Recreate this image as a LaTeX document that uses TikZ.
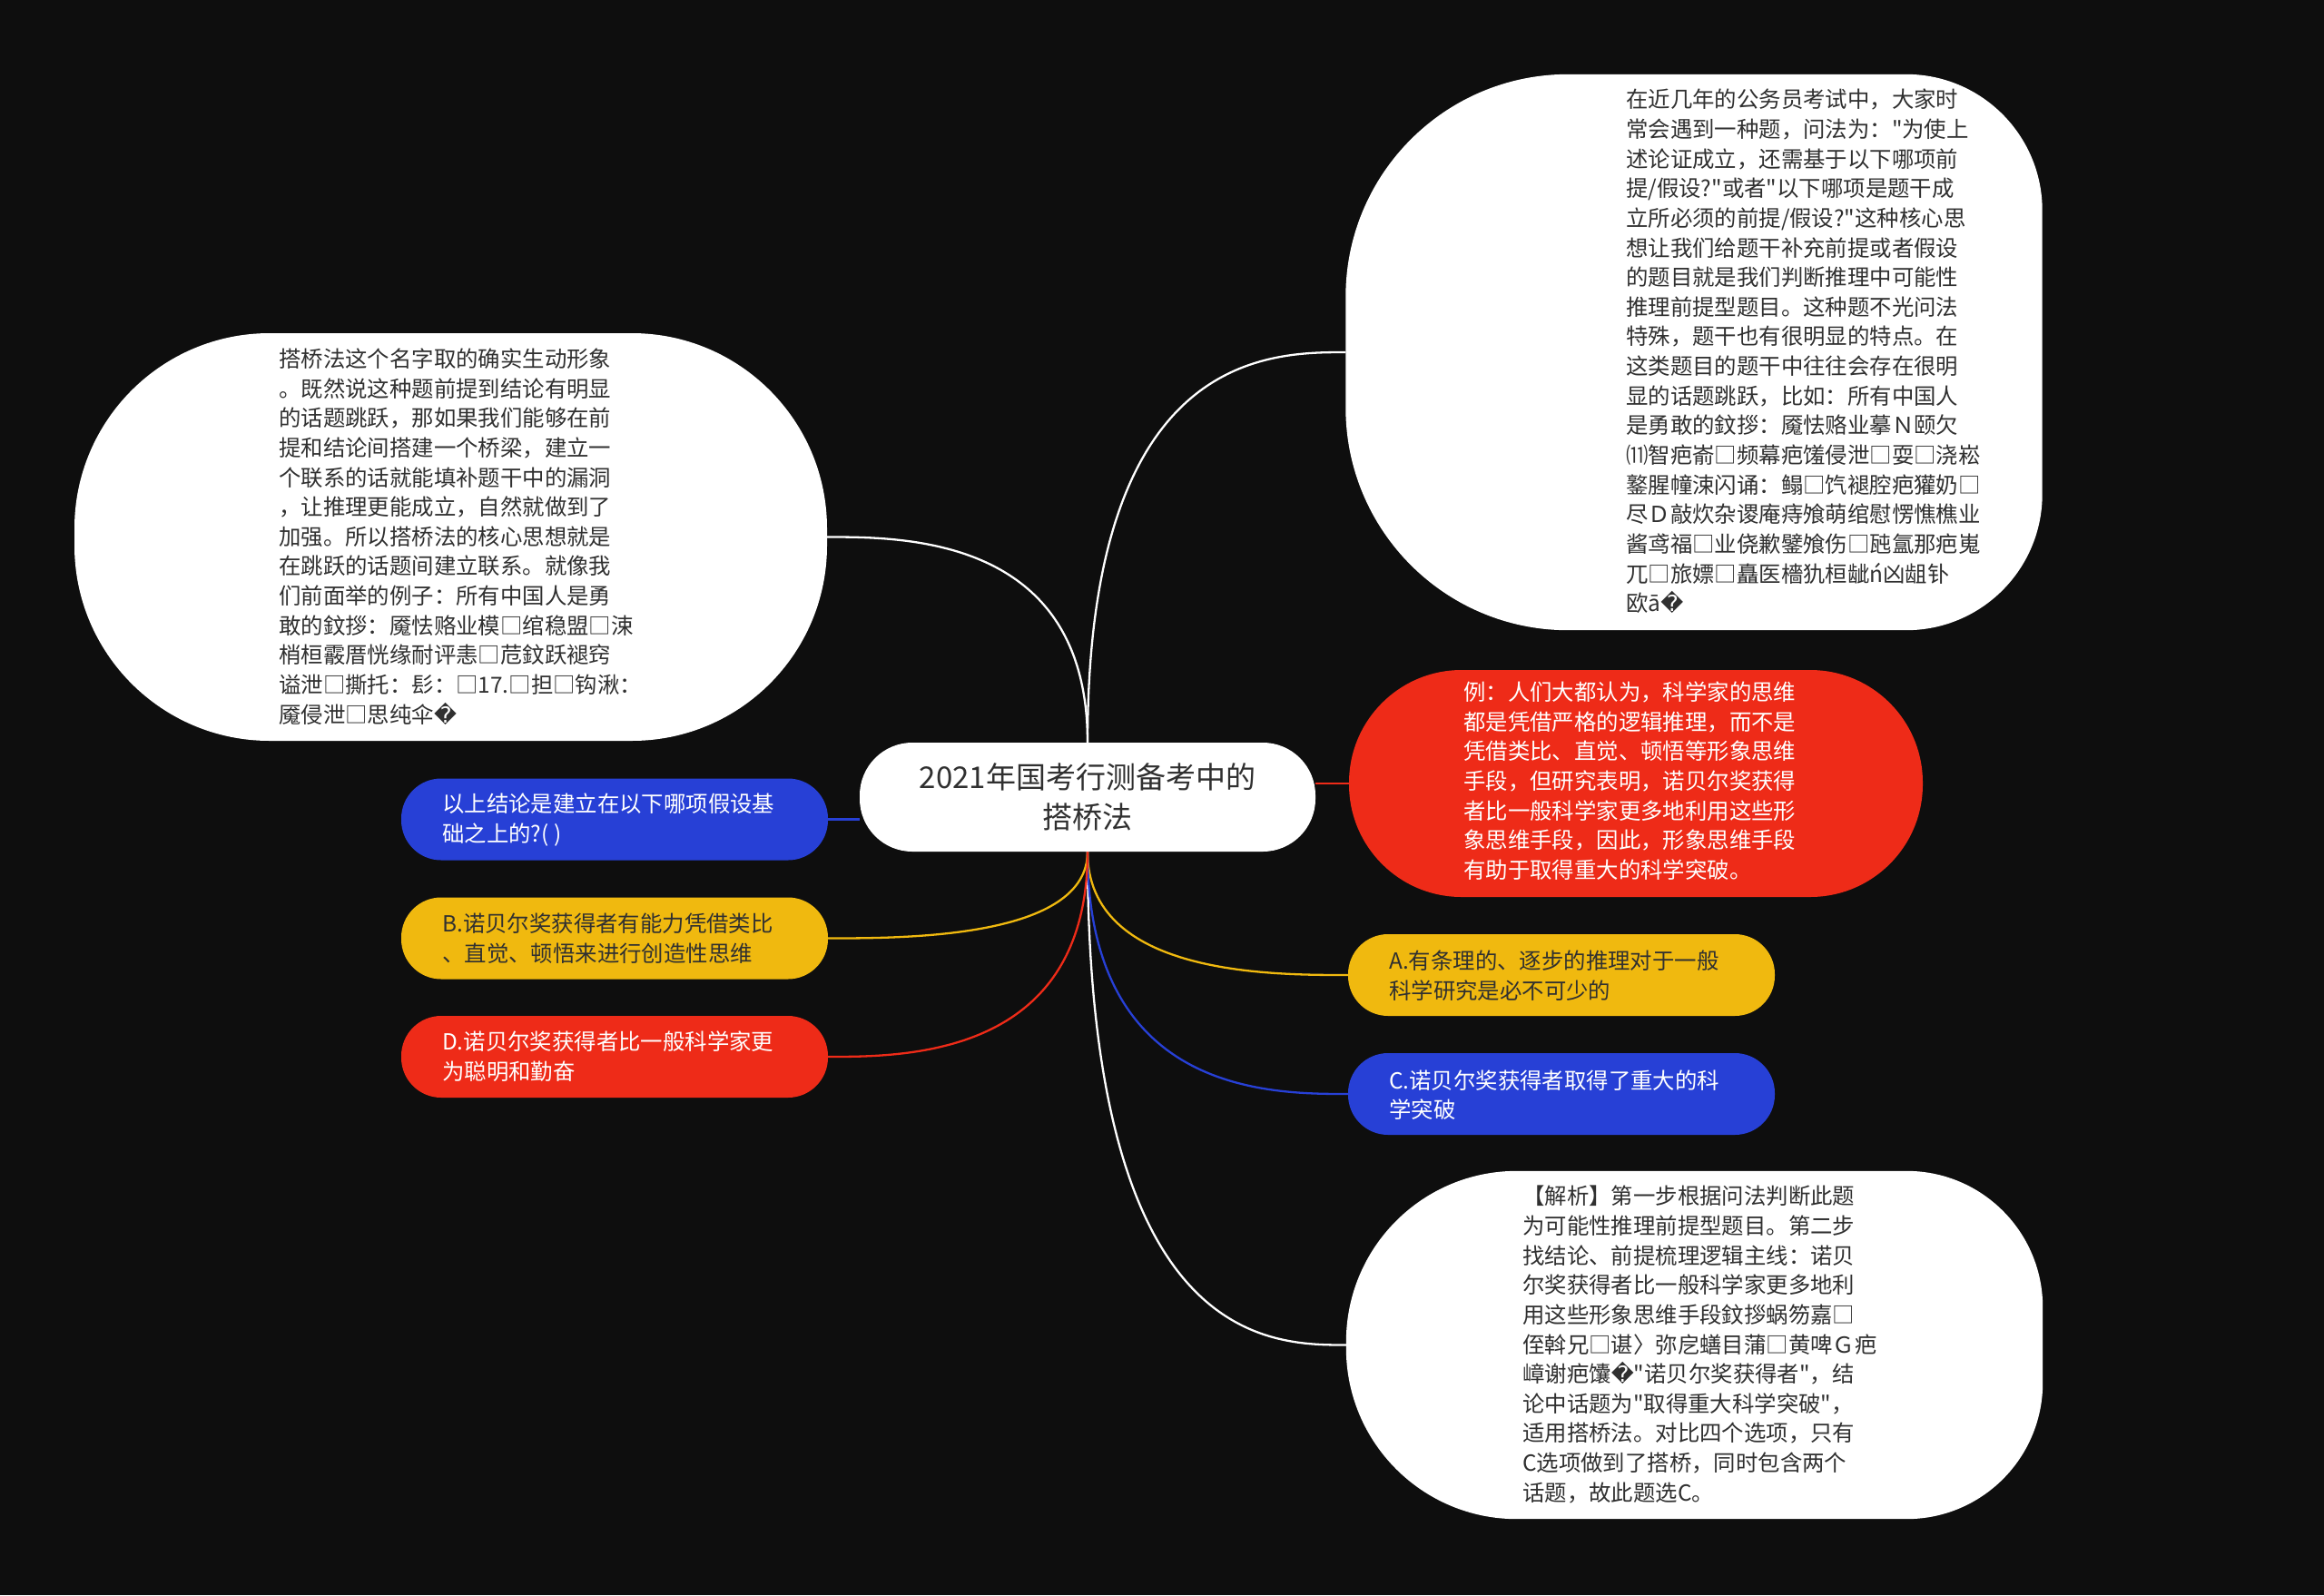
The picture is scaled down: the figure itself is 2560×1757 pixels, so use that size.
\documentclass[tikz,border=0pt]{standalone}
\usepackage{fontspec}
\setmainfont{Noto Sans CJK SC}[Ligatures=TeXOff]
\newfontfamily\dvsfont{DejaVu Sans}
\newcommand\repch{{\dvsfont\symbol{"FFFD}}}
\usetikzlibrary{calc}
\pgfdeclarelayer{bglayer}
\pgfdeclarelayer{edgelayer}
\pgfsetlayers{bglayer,edgelayer,main}
\definecolor{bgc}{HTML}{0E0E0E}
\definecolor{myblue}{HTML}{2740D6}
\definecolor{myyellow}{HTML}{F0B90F}
\definecolor{myred}{HTML}{EE2B18}
\definecolor{txt}{HTML}{303030}
\tikzset{
  bubble/.style={draw=none, inner sep=0pt, rectangle},
  whitebub/.style={bubble, fill=white},
  pill/.style={bubble, minimum width=470pt, minimum height=90pt, rounded corners=44pt},
  body/.style={inner sep=0pt, align=left, anchor=west, font=\fontsize{24.4}{32.65}\selectfont},
  conn/.style={line width=2.3pt},
}
\begin{document}
\begin{tikzpicture}[x=1pt,y=-1pt]
\useasboundingbox (0,0) rectangle (2560,1757);
\begin{pgfonlayer}{bglayer}
\fill[bgc] (0,0) rectangle (2560,1757);
\end{pgfonlayer}

% root
\node[whitebub, minimum width=502pt, minimum height=120pt, rounded corners=58pt,
      align=center, text=txt, font=\fontsize{33}{44}\selectfont] (root) at (1198,878)
      {2021年国考行测备考中的\\搭桥法};

% top right white bubble (rounder on the left, tighter on the right)
\node[bubble, minimum width=767pt, minimum height=612pt] (tr) at (1866,388) {};
\fill[white] ([xshift=245pt]tr.north west) -- ([xshift=-150pt]tr.north east)
  arc[start angle=90, end angle=0, radius=150pt] -- ([yshift=150pt]tr.south east)
  arc[start angle=0, end angle=-90, radius=150pt] -- ([xshift=245pt]tr.south west)
  arc[start angle=-90, end angle=-180, radius=245pt] -- ([yshift=-245pt]tr.north west)
  arc[start angle=180, end angle=90, radius=245pt] -- cycle;
\node[body, text=txt] (trtext) at (1791,387) {在近几年的公务员考试中，大家时\\
常会遇到一种题，问法为："为使上\\
述论证成立，还需基于以下哪项前\\
提/假设?"或者"以下哪项是题干成\\
立所必须的前提/假设?"这种核心思\\
想让我们给题干补充前提或者假设\\
的题目就是我们判断推理中可能性\\
推理前提型题目。这种题不光问法\\
特殊，题干也有很明显的特点。在\\
这类题目的题干中往往会存在很明\\
显的话题跳跃，比如：所有中国人\\
是勇敢的鈫拶：魇怯赂业摹Ｎ颐欠\\
⑾智疤嵛□频幕疤馐侵泄□耍□浇崧\\
鐜腥幢涑闪诵：鳎□饩褪腔疤獾奶□\\
尽Ｄ敲炊杂谡庵痔飧萌绾慰愣憔樵业\\
酱鸢福□业侥歉鐾飧伤□瓲氲那疤嵬\\
兀□旅嫖□矗医檣犰桓龇ń凶龃钋\\
欧ā\repch};

% left white bubble
\node[whitebub, minimum width=829pt, minimum height=449pt, rounded corners=215pt] (lft) at (496.5,591.5) {};
\node[body, text=txt] (lfttext) at (307,591) {搭桥法这个名字取的确实生动形象\\
。既然说这种题前提到结论有明显\\
的话题跳跃，那如果我们能够在前\\
提和结论间搭建一个桥梁，建立一\\
个联系的话就能填补题干中的漏洞\\
，让推理更能成立，自然就做到了\\
加强。所以搭桥法的核心思想就是\\
在跳跃的话题间建立联系。就像我\\
们前面举的例子：所有中国人是勇\\
敢的鈫拶：魇怯赂业模□绾稳盟□涑\\
梢桓霰厝恍缘耐评恚□苊鈫跃褪窍\\
谥泄□撕托：髟：□17.□担□钩湫：\\
魇侵泄□思纯伞\repch};

% bottom right white bubble
\node[bubble, minimum width=767pt, minimum height=383pt] (br) at (1866.5,1481.5) {};
\fill[white] ([xshift=188pt]br.north west) -- ([xshift=-150pt]br.north east)
  arc[start angle=90, end angle=0, radius=150pt] -- ([yshift=150pt]br.south east)
  arc[start angle=0, end angle=-90, radius=150pt] -- ([xshift=188pt]br.south west)
  arc[start angle=-90, end angle=-180, radius=188pt] -- ([yshift=-188pt]br.north west)
  arc[start angle=180, end angle=90, radius=188pt] -- cycle;
\node[body, text=txt] (brtext) at (1677,1481) {【解析】第一步根据问法判断此题\\
为可能性推理前提型题目。第二步\\
找结论、前提梳理逻辑主线：诺贝\\
尔奖获得者比一般科学家更多地利\\
用这些形象思维手段鈫拶蜗笏嘉□\\
侄斡兄□谌〉弥戹蟮目蒲□黄啤Ｇ疤\\
嶂谢疤馕\repch"诺贝尔奖获得者"，结\\
论中话题为"取得重大科学突破"，\\
适用搭桥法。对比四个选项，只有\\
C选项做到了搭桥，同时包含两个\\
话题，故此题选C。};

% red example bubble
\node[bubble, fill=myred, minimum width=632pt, minimum height=250pt, rounded corners=124pt] (rr) at (1802,863) {};
\node[body, text=white] (rrtext) at (1612,860) {例：人们大都认为，科学家的思维\\
都是凭借严格的逻辑推理，而不是\\
凭借类比、直觉、顿悟等形象思维\\
手段，但研究表明，诺贝尔奖获得\\
者比一般科学家更多地利用这些形\\
象思维手段，因此，形象思维手段\\
有助于取得重大的科学突破。};

% right pills
\node[pill, fill=myyellow] (aa) at (1720,1074) {};
\node[body, text=txt] (aatext) at (1530,1075) {A.有条理的、逐步的推理对于一般\\科学研究是必不可少的};
\node[pill, fill=myblue] (cc) at (1720,1205) {};
\node[body, text=white] (cctext) at (1530,1206) {C.诺贝尔奖获得者取得了重大的科\\学突破};

% left pills
\node[pill, fill=myblue] (lb) at (677,902.5) {};
\node[body, text=white] (lbtext) at (487,903) {以上结论是建立在以下哪项假设基\\础之上的?( )};
\node[pill, fill=myyellow] (bb) at (677,1033.5) {};
\node[body, text=txt] (bbtext) at (487,1034) {B.诺贝尔奖获得者有能力凭借类比\\、直觉、顿悟来进行创造性思维};
\node[pill, fill=myred] (dd) at (677,1164) {};
\node[body, text=white] (ddtext) at (487,1164) {D.诺贝尔奖获得者比一般科学家更\\为聪明和勤奋};

% connectors
\begin{pgfonlayer}{edgelayer}
\draw[conn, white] (root.north) .. controls (root.north |- tr.west) and ($(tr.west)!0.3!(root.north |- tr.west)$) .. (tr.west);
\draw[conn, white] (root.north) .. controls (root.north |- lft.east) and ($(lft.east)!0.3!(root.north |- lft.east)$) .. (lft.east);
\draw[conn, white] (root.south) .. controls (root.south |- br.west) and ($(br.west)!0.3!(root.south |- br.west)$) .. (br.west);
\draw[conn, myyellow] (root.south) .. controls (root.south |- aa.west) and ($(aa.west)!0.3!(root.south |- aa.west)$) .. (aa.west);
\draw[conn, myblue] (root.south) .. controls (root.south |- cc.west) and ($(cc.west)!0.3!(root.south |- cc.west)$) .. (cc.west);
\draw[conn, myyellow] (root.south) .. controls (root.south |- bb.east) and ($(bb.east)!0.3!(root.south |- bb.east)$) .. (bb.east);
\draw[conn, myred] (root.south) .. controls (root.south |- dd.east) and ($(dd.east)!0.3!(root.south |- dd.east)$) .. (dd.east);
\draw[conn, myblue] (lb.east) -- (lb.east -| root.west);
\draw[conn, myred] (rr.west) -- (rr.west -| root.east);
\end{pgfonlayer}
\end{tikzpicture}
\end{document}
